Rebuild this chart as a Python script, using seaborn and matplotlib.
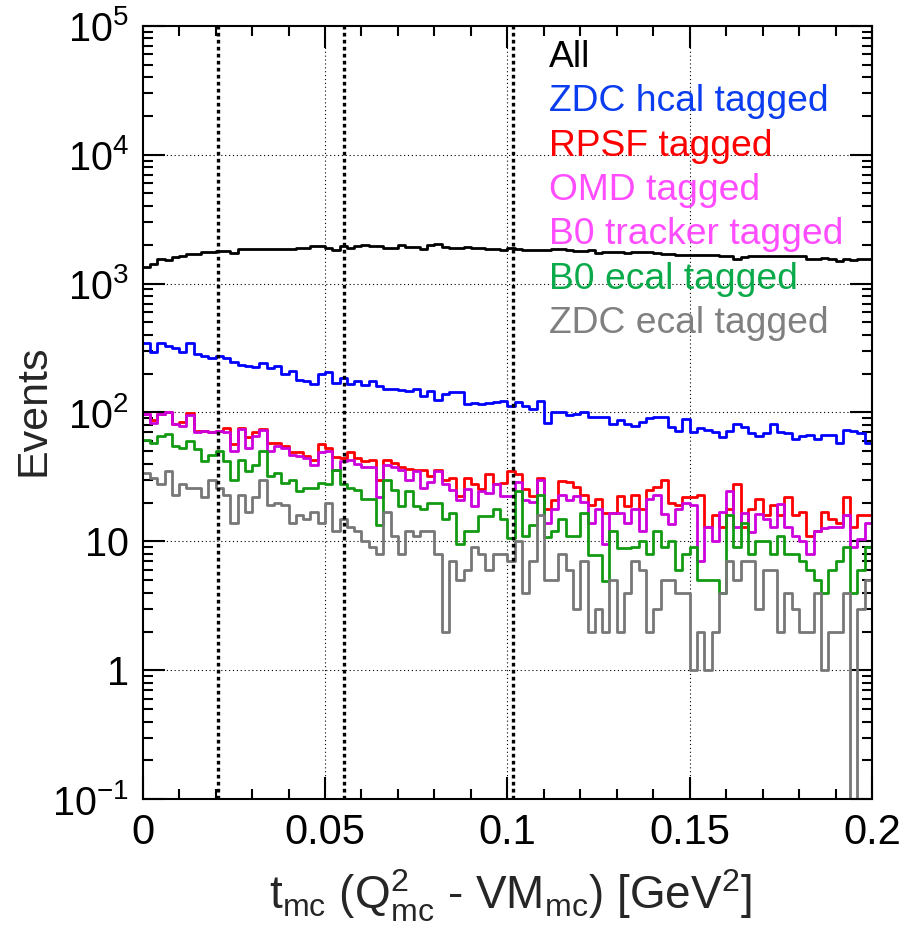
import numpy as np
import pandas as pd
import matplotlib
matplotlib.use("Agg")
import matplotlib.pyplot as plt
import seaborn as sns
from matplotlib.ticker import FixedLocator, LogLocator, NullFormatter, FixedFormatter, MultipleLocator

# ---------------- data ----------------
t_range = (0.0, 0.2)
n_bins = 100

all_events = [1345, 1430, 1560, 1530, 1600, 1640, 1700, 1700, 1750, 1760,
              1800, 1780, 1720, 1860, 1870, 1860, 1860, 1860, 1870, 1860,
              1850, 1880, 1900, 1960, 1970, 1900, 1830, 1960, 1900, 1970,
              1980, 1960, 1940, 1900, 1890, 1980, 1925, 1925, 1870, 1980,
              2040, 1925, 1890, 1890, 1925, 1890, 1890, 1845, 1867, 1812,
              1900, 1845, 1812, 1812, 1825, 1830, 1845, 1845, 1812, 1800,
              1780, 1812, 1740, 1760, 1760, 1760, 1740, 1760, 1760, 1760,
              1740, 1708, 1708, 1657, 1657, 1678, 1678, 1657, 1657, 1640,
              1640, 1545, 1610, 1640, 1640, 1640, 1640, 1630, 1630, 1630,
              1630, 1545, 1545, 1582, 1563, 1490, 1545, 1516, 1545, 1545]

zdc_hcal = [349, 293, 349, 326, 317, 293, 349, 282, 273, 265,
            273, 265, 245, 234, 228, 224, 243, 222, 230, 200,
            209, 180, 175, 165, 200, 205, 170, 185, 165, 175,
            162, 175, 160, 151, 152, 150, 148, 152, 134, 148,
            124, 140, 145, 143, 117, 118, 117, 118, 121, 123,
            112, 120, 113, 107, 123, 83, 100, 100, 96, 97,
            100, 93, 92, 93, 81, 87, 82, 79, 84, 91,
            93, 93, 77, 72, 89, 70, 76, 73, 70, 64,
            72, 81, 77, 69, 66, 69, 81, 70, 69, 62,
            66, 67, 62, 67, 67, 58, 73, 72, 69, 58]

rpsf = [97, 88, 97, 100, 82, 84, 99, 72, 72, 70,
        72, 76, 57, 76, 64, 70, 74, 58, 58, 55,
        49, 49, 46, 43, 57, 53, 45, 44, 49, 44,
        42, 43, 30, 42.6, 40.7, 38, 36.7, 36, 36, 32,
        35.7, 30, 31, 22.6, 31, 27.7, 25.6, 33.6, 27.7, 28.5,
        35, 33.6, 25.6, 22.4, 31, 17.7, 21, 29.6, 28.7, 26.6,
        23, 19, 21.4, 16.7, 16.7, 22.6, 18.8, 23, 18, 25,
        26.5, 30, 20, 19, 22, 22, 23, 13, 16, 13,
        18, 28, 13, 18, 21.5, 16, 19, 16, 22, 16,
        17, 11, 12, 17, 15, 14, 22, 13, 16, 16]

omd = [0, 0, 0, 0, 0, 0, 0, 0, 0, 0,
       0, 0, 0, 0, 0, 0, 0, 0, 0, 0,
       0, 0, 0, 0, 0, 0, 0, 0, 0, 0,
       0, 0, 0, 0, 0, 0, 0, 0, 0, 0,
       0, 0, 0, 0, 0, 0, 0, 0, 0, 0,
       0, 0, 0, 0, 0, 0, 0, 0, 0, 0,
       0, 0, 0, 0, 0, 0, 0, 0, 0, 0,
       0, 0, 0, 0, 0, 0, 0, 0, 0, 0,
       0, 0, 0, 0, 0, 0, 0, 0, 0, 0,
       0, 0, 0, 0, 0, 0, 0, 0, 0, 0]

b0_tracker = [97, 83, 97, 100, 81, 78, 95, 70, 72, 70,
              72, 70, 50, 74, 53, 66, 73, 50, 55, 53,
              47, 46, 44.5, 39.5, 49, 50, 36, 42, 43, 40,
              38, 38, 22, 39.5, 38, 36, 30, 35, 26, 29,
              35, 27.7, 25, 21, 25.6, 18.8, 24.5, 23.8, 27.7, 22.4,
              22.4, 29, 21, 20.2, 30, 14, 17.7, 23, 21, 22.4,
              20.2, 14, 17.7, 9.5, 16.7, 16.7, 14, 18, 12, 21.5,
              23, 16.4, 13.7, 18, 20, 19.3, 7, 13, 10, 17,
              24.6, 13, 16.7, 11.8, 16.4, 14.8, 13, 19.6, 13, 11,
              10, 8, 12, 12.6, 13, 13, 16, 9, 10.5, 14]

b0_ecal = [61, 58, 66, 68, 55, 53, 60, 52, 42, 47,
           50, 42, 30, 43, 35, 39.5, 50, 32, 34, 28.5,
           30, 24.5, 26, 26, 28.5, 27.7, 35.7, 27.7, 26, 25,
           21.4, 21.4, 13.5, 30, 25, 18.8, 24.5, 18.8, 17.7, 19.7,
           19.7, 14.8, 16.7, 9.6, 12, 12, 15.7, 15.7, 17.7, 14.8,
           10.7, 24.5, 11, 13.5, 23, 10.8, 12, 14.8, 11, 11,
           16.7, 7.9, 7.9, 4.9, 12, 8.9, 8.9, 9, 10, 8,
           12, 9, 10, 6, 8, 9, 5, 5, 5, 4,
           16, 9, 14, 8, 10, 10, 8, 11, 8, 8,
           7, 6, 5, 4, 6, 7, 9, 4, 6, 9]

zdc_ecal = [34, 31, 28, 35, 23, 28, 26, 26, 22, 30,
            26, 23, 14, 23, 17, 22, 30, 19, 20, 19,
            14, 16, 15, 17, 14, 20, 12, 15, 13, 12,
            10, 9, 8, 17, 11, 8, 12, 11, 12, 12,
            8, 2, 7, 5, 6, 9, 8, 6, 8, 8,
            7, 10, 4, 7, 16, 5, 5, 8, 6, 3,
            7, 2, 3, 2, 5, 2, 4, 7, 6, 2,
            3, 5, 5, 4, 4, 1, 2, 1, 2, 4,
            7, 5, 7, 7, 3, 6, 6, 2, 4, 3,
            2, 2, 4, 1, 2, 2, 4, 0, 3, 5]

series_names = ["All", "ZDC hcal tagged", "RPSF tagged", "OMD tagged",
                "B0 tracker tagged", "B0 ecal tagged", "ZDC ecal tagged"]
series_values = [all_events, zdc_hcal, rpsf, omd, b0_tracker, b0_ecal, zdc_ecal]

cut_lines = [0.0206, 0.0552, 0.1016]

x_ticks = [0, 0.05, 0.1, 0.15, 0.2]
x_tick_labels = ["0", "0.05", "0.1", "0.15", "0.2"]
y_ticks = [0.1, 1, 10, 100, 1000, 10000, 100000]
y_tick_labels = [r"$\mathregular{10^{-1}}$", "1", "10", r"$\mathregular{10^{2}}$",
                 r"$\mathregular{10^{3}}$", r"$\mathregular{10^{4}}$", r"$\mathregular{10^{5}}$"]
x_title = r"t$_{\mathregular{mc}}$ (Q$^{\mathregular{2}}_{\mathregular{mc}}$ - VM$_{\mathregular{mc}}$) [GeV$^{\mathregular{2}}$]"
y_title = "Events"

# ---------------- styles ----------------
line_colors = ["#000000", "#0000ff", "#ff0000", "#ff00ff", "#cc00dd", "#129a12", "#777777"]
text_colors = ["#000000", "#0a3cf0", "#ff0000", "#ff4dff", "#ff4dff", "#0aaa4a", "#808080"]

sns.set_style("ticks")
plt.rcParams["font.family"] = ["Liberation Sans", "DejaVu Sans"]
plt.rcParams["mathtext.fontset"] = "custom"
plt.rcParams["mathtext.rm"] = "Liberation Sans"
plt.rcParams["mathtext.it"] = "Liberation Sans:italic"
plt.rcParams["mathtext.bf"] = "Liberation Sans:bold"

W, H = 907, 934
fig = plt.figure(figsize=(W / 100, H / 100), dpi=100)
ax_left, ax_right, ax_top, ax_bottom = 142.7, 872.0, 25.7, 799.3
ax = fig.add_axes([ax_left / W, 1 - ax_bottom / H,
                   (ax_right - ax_left) / W, (ax_bottom - ax_top) / H])

edges = np.linspace(t_range[0], t_range[1], n_bins + 1)
centers = 0.5 * (edges[:-1] + edges[1:])

rows = []
for name, vals in zip(series_names, series_values):
    rows.append(pd.DataFrame({"t": centers, "events": vals, "series": name}))
df = pd.concat(rows, ignore_index=True)

for name, col in zip(series_names, line_colors):
    sub = df[df["series"] == name]
    sns.histplot(data=sub, x="t", weights="events", bins=n_bins, binrange=t_range,
                 element="step", fill=False, color=col, linewidth=2.0, ax=ax)

ax.set_yscale("log")
ax.set_xlim(*t_range)
ax.set_ylim(0.1, 1e5)

# grid
for xv in x_ticks[1:-1]:
    ax.axvline(xv, color="black", lw=0.8, ls=(0, (1, 2.5)), zorder=0.5)
for yv in y_ticks[1:-1]:
    ax.axhline(yv, color="black", lw=0.8, ls=(0, (1, 2.5)), zorder=0.5)

# thick dotted cut lines
for xc in cut_lines:
    ax.axvline(xc, color="black", lw=2.4, ls=(0, (1.1, 1.0)), zorder=5)

# ticks
ax.xaxis.set_major_locator(FixedLocator(x_ticks))
ax.xaxis.set_major_formatter(FixedFormatter(x_tick_labels))
ax.xaxis.set_minor_locator(MultipleLocator(0.01))
ax.yaxis.set_major_locator(FixedLocator(y_ticks))
ax.yaxis.set_major_formatter(FixedFormatter(y_tick_labels))
ax.yaxis.set_minor_locator(LogLocator(base=10, subs=np.arange(2, 10), numticks=20))
ax.yaxis.set_minor_formatter(NullFormatter())

ax.tick_params(which="both", direction="in", top=True, right=True,
               labeltop=False, labelright=False, width=1.5, colors="black")
ax.tick_params(which="major", length=15.5)
ax.tick_params(which="minor", length=7.2)
ax.tick_params(axis="y", which="major", pad=10, labelsize=28.5)
ax.tick_params(axis="x", which="major", pad=10, labelsize=30)

for sp in ax.spines.values():
    sp.set_visible(True)
    sp.set_linewidth(1.5)
    sp.set_color("black")

ax.set_xlabel("")
ax.set_ylabel("")

# axis titles
fig.text(34 / W, 1 - 410 / H, y_title, rotation=90, ha="center", va="center",
         fontsize=31)
fig.text(510 / W, 1 - 909 / H, x_title, ha="center", va="baseline", fontsize=33)

# legend as coloured text
base_y = 66.7
step_y = 44.4
for i, (name, col) in enumerate(zip(series_names, text_colors)):
    fig.text(549 / W, 1 - (base_y + i * step_y) / H, name, color=col,
             ha="left", va="baseline", fontsize=26.8)

fig.savefig("out.png", dpi=100)
